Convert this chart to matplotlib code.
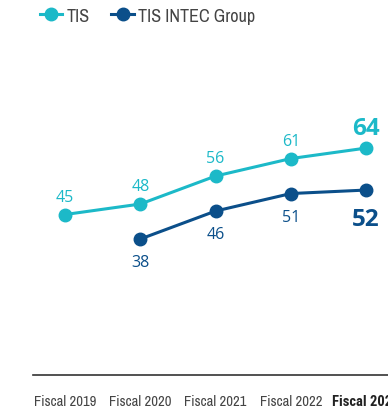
import matplotlib.pyplot as plt
from matplotlib import font_manager as fm

years = ["Fiscal 2019", "Fiscal 2020", "Fiscal 2021", "Fiscal 2022", "Fiscal 2023"]
tis = [45, 48, 56, 61, 64]
group_x = [1, 2, 3, 4]
group = [38, 46, 51, 52]

c_tis = "#1cb9c8"
c_grp = "#0b4f8a"
narrow = "Archivo Narrow"
plt.rcParams['font.family'] = [narrow, "DejaVu Sans"]

# pick a narrow family that really has a bold face for the last tick label
bold_fams = {f.name for f in fm.fontManager.ttflist if f.weight in (700, "bold")}
narrow_bold = next((n for n in ["Roboto Condensed", "Fira Sans Condensed", "PT Sans Narrow",
                                "IBM Plex Sans Condensed", "Encode Sans Condensed",
                                "Open Sans Condensed", "Saira SemiCondensed"] if n in bold_fams), narrow)
nums = ["Open Sans", "DejaVu Sans"]

fig = plt.figure(figsize=(3.88, 4.14), dpi=100)
ax = fig.add_axes([33 / 388, 38 / 414, 355 / 388, 376 / 414])
ax.set_xlim(-0.425, 4.29)
ax.set_ylim(-0.86, 106.6)

ax.plot(range(len(tis)), tis, color=c_tis, lw=2.2, marker="o", ms=9, label="TIS")
ax.plot(group_x, group, color=c_grp, lw=2.2, marker="o", ms=9, label="TIS INTEC Group")

# value labels: TIS above, group below, latest year big and bold
for i, v in enumerate(tis):
    last = i == len(tis) - 1
    ax.annotate(str(v), (i, v), xytext=(0, 10), textcoords="offset points",
                ha="center", va="baseline", color=c_tis, family=nums,
                fontsize=17.5 if last else 11.5, fontweight="bold" if last else "normal")
for x, v in zip(group_x, group):
    last = x == group_x[-1]
    ax.annotate(str(v), (x, v), xytext=(0, -12 if last else -11), textcoords="offset points",
                ha="center", va="top", color=c_grp, family=nums,
                fontsize=17.5 if last else 11.5, fontweight="bold" if last else "normal")

for s in ["top", "right", "left"]:
    ax.spines[s].set_visible(False)
ax.spines["bottom"].set_color("#333333")
ax.spines["bottom"].set_linewidth(1.2)
ax.set_yticks([])
ax.set_xticks(range(len(years)))
ax.set_xticklabels(years, fontsize=10.5, color="#444444")
lastlab = ax.get_xticklabels()[-1]
lastlab.set_family([narrow_bold, "DejaVu Sans"])
lastlab.set_fontweight("bold")
lastlab.set_color("#222222")
ax.tick_params(axis="x", length=0, pad=14)

leg = fig.legend(loc="upper left", bbox_to_anchor=(0.06, 1.018), ncol=2, frameon=False,
                 fontsize=13, handlelength=1.25, columnspacing=1.2, handletextpad=0.25)
for t in leg.get_texts():
    t.set_color("#444444")

fig.savefig("out.png", dpi=100)
